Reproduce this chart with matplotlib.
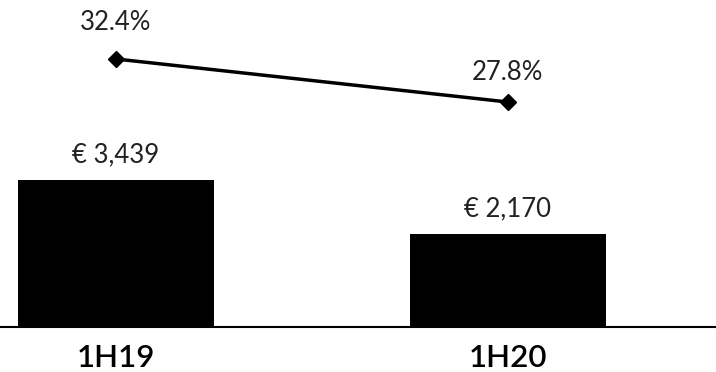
import matplotlib
matplotlib.use("Agg")
from matplotlib import pyplot as plt

# datos
periodos = ["1H19", "1H20"]
ventas = [3439, 2170]
margen = [32.4, 27.8]
etiquetas_ventas = ["€ 3,439", "€ 2,170"]
etiquetas_margen = ["32.4%", "27.8%"]

plt.rcParams['font.family'] = ['Lato', 'DejaVu Sans']

fig = plt.figure(figsize=(7.16, 3.72), dpi=100)
ax = fig.add_axes([0, 0.121, 1, 0.879])
x = list(range(len(periodos)))

ax.bar(x, ventas, width=0.5, color='black')
ax.set_xlim(-0.296, 1.531)
ax.set_ylim(0, 7650)
for i, v in enumerate(ventas):
    ax.annotate(etiquetas_ventas[i], (x[i], v), xytext=(0, 25), textcoords='offset pixels',
                ha='center', va='center', fontsize=18.5, fontweight='normal', color='#222222')
    ax.annotate(periodos[i], (x[i], 0), xytext=(0, -31), textcoords='offset pixels',
                ha='center', va='center', fontsize=22.5, fontweight='semibold', color='black')

for s in ['top', 'right', 'left']:
    ax.spines[s].set_visible(False)
ax.spines['bottom'].set_linewidth(1.5)
ax.set_xticks([])
ax.set_yticks([])

ax2 = ax.twinx()
ax2.set_ylim(3.74, 38.71)
ax2.plot(x, margen, color='black', lw=2.5, marker='D', markersize=8)
offs = [37, 30]
for i, m in enumerate(margen):
    ax2.annotate(etiquetas_margen[i], (x[i], m), xytext=(0, offs[i]), textcoords='offset pixels',
                 ha='center', va='center', fontsize=18.5, fontweight='normal', color='#222222')
ax2.axis('off')

fig.savefig("out.png", dpi=100)
